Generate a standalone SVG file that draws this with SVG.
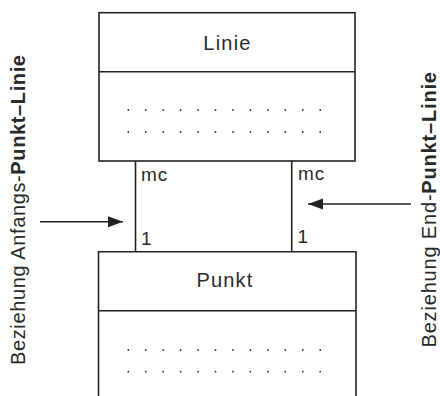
<svg xmlns="http://www.w3.org/2000/svg" width="440" height="396" viewBox="0 0 440 396">
<style>
  .box { fill: #fff; stroke: #222; stroke-width: 1.6; }
  .sep { stroke: #222; stroke-width: 1.6; }
  .edge { stroke: #222; stroke-width: 1.6; fill: none; }
  .arrow { stroke: #222; stroke-width: 1.6; fill: none; marker-end: url(#ah); }
  .title { font-family: "Liberation Sans", Arial, sans-serif; font-size: 20px; fill: #2a2a2a; text-anchor: middle; letter-spacing: 1.2px; }
  .mult { font-family: "Liberation Sans", Arial, sans-serif; font-size: 19px; fill: #2a2a2a; letter-spacing: 1px; }
  .side { font-family: "Liberation Sans", Arial, sans-serif; font-size: 20px; fill: #2a2a2a; }
  .b { font-weight: bold; }
  .dot { fill: #333; }
</style>
<defs>
  <marker id="ah" markerWidth="16" markerHeight="12" refX="15" refY="5.5" orient="auto" markerUnits="userSpaceOnUse">
    <path d="M0,0 L15,5.5 L0,11 Z" fill="#222"/>
  </marker>
  <g id="dotrow">
    <circle class="dot" cx="128.3" cy="0" r="0.9"/>
    <circle class="dot" cx="145.7" cy="0" r="0.9"/>
    <circle class="dot" cx="163.2" cy="0" r="0.9"/>
    <circle class="dot" cx="180.6" cy="0" r="0.9"/>
    <circle class="dot" cx="198.1" cy="0" r="0.9"/>
    <circle class="dot" cx="215.5" cy="0" r="0.9"/>
    <circle class="dot" cx="233.0" cy="0" r="0.9"/>
    <circle class="dot" cx="250.4" cy="0" r="0.9"/>
    <circle class="dot" cx="267.9" cy="0" r="0.9"/>
    <circle class="dot" cx="285.3" cy="0" r="0.9"/>
    <circle class="dot" cx="302.8" cy="0" r="0.9"/>
    <circle class="dot" cx="320.2" cy="0" r="0.9"/>
  </g>
</defs>
<rect width="440" height="396" fill="#fff"/>

<g id="connectors">
  <line class="edge" x1="135.5" y1="161" x2="135.5" y2="252"/>
  <line class="edge" x1="291.7" y1="161" x2="291.7" y2="252"/>
  <text class="mult" x="141" y="181">mc</text>
  <text class="mult" x="298" y="180">mc</text>
  <text class="mult" x="141" y="244.5">1</text>
  <text class="mult" x="297.5" y="243">1</text>
  <line class="arrow" x1="40" y1="221.7" x2="123" y2="221.7"/>
  <line class="arrow" x1="411" y1="204" x2="308" y2="204"/>
</g>

<g id="node-linie">
  <rect class="box" x="99" y="12.7" width="256" height="148.3"/>
  <line class="sep" x1="99" y1="71.8" x2="355" y2="71.8"/>
  <text class="title" x="227.5" y="50">Linie</text>
  <use href="#dotrow" y="110"/>
  <use href="#dotrow" y="132"/>
</g>

<g id="node-punkt">
  <path class="edge" d="M98.5,400 L98.5,251.8 L356,251.8 L356,400"/>
  <line class="sep" x1="98.5" y1="310.8" x2="356" y2="310.8"/>
  <text class="title" x="225" y="286.5">Punkt</text>
  <use href="#dotrow" y="350"/>
  <use href="#dotrow" y="371.7"/>
</g>

<g id="label-anfang">
  <text class="side" transform="translate(24.5,365) rotate(-90)" x="0" y="0" textLength="310" lengthAdjust="spacing">Beziehung Anfangs-<tspan class="b">Punkt–Linie</tspan></text>
</g>
<g id="label-end">
  <text class="side" transform="translate(436,347.5) rotate(-90)" x="0" y="0" textLength="275.5" lengthAdjust="spacing">Beziehung End-<tspan class="b">Punkt–Linie</tspan></text>
</g>
</svg>
